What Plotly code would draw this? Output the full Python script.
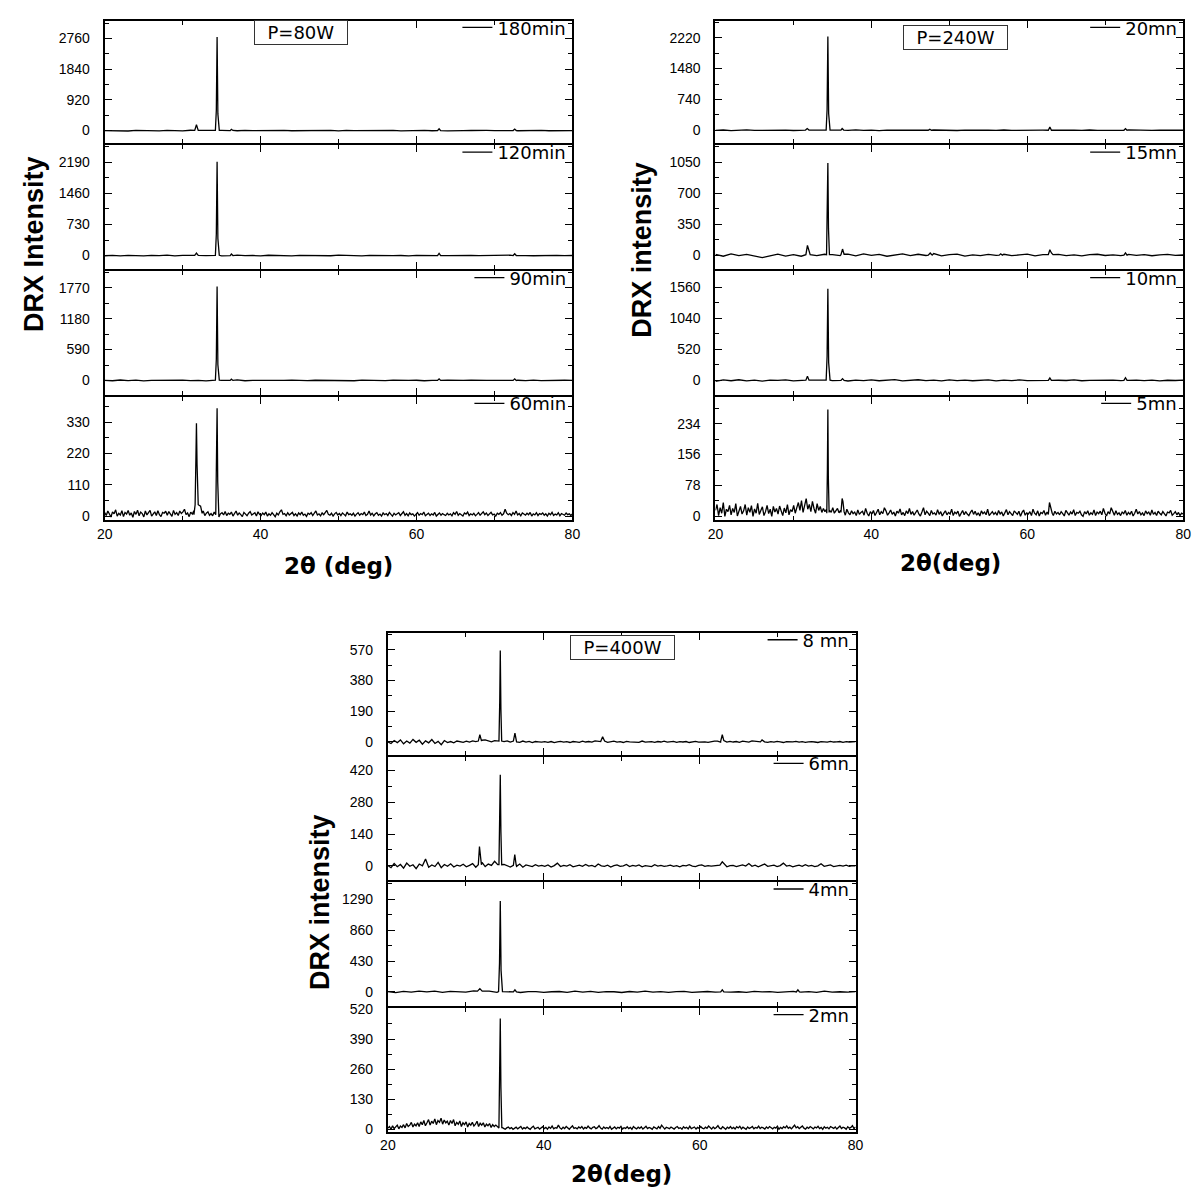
import numpy as np
import plotly.graph_objects as go

W, H = 1203, 1193

# ---------------- data ----------------
labels = ["180min", "120min", "90min", "60min",
          "20mn", "15mn", "10mn", "5mn",
          "8 mn", "6mn", "4mn", "2mn"]


def nums(s):
    return [float(v) for v in s.split()]


# baselines (evenly spaced from 20 to 80 deg)
base_180 = nums("0 -8 5 -12 6 -4 2 -10 8 -3 -6 10 -2 4 -9 6 0 -5 8 -3 5 -7 3 9 -4 2 -8 6 -2 4 -6 8 -3 1 -5 7 -2 4 -8 3 -1 6 -4 2 -7 5 -1 3 -6 4 0 -3 7 -5 2 -2 6 -4 1 -3 2")
base_120 = nums("-5 4 -8 6 0 -10 5 -3 8 -6 2 -4 9 -2 5 -8 3 10 -4 1 -6 7 -2 4 -9 5 0 -3 6 -5 8 -1 3 -7 4 -2 6 -4 1 -8 5 0 -3 7 -2 3 -6 4 -1 5 -4 2 8 -3 0 -5 4 -2 6 -3 1")
base_90 = nums("3 -6 8 -2 5 -9 2 6 -4 0 7 -5 3 -8 4 1 -3 9 -6 2 -1 5 -7 3 6 -2 -5 4 0 8 -3 2 -6 5 -1 3 -4 7 -2 0 4 -6 3 -1 5 -3 2 6 -4 0 3 -5 1 4 -2 6 -3 2 -1 4 0")
base_20 = nums("-4 6 -10 3 8 -5 0 -8 5 2 -6 9 -3 4 -7 1 6 -2 8 -4 3 -9 5 0 -3 7 -5 2 6 -1 4 -6 3 8 -2 0 -5 6 -3 2 5 -4 1 -7 4 0 3 -5 6 -2 1 4 -3 7 -1 2 -4 5 -2 3 0")
base_15 = nums("10 -12 15 -5 8 -10 -28 -8 12 -10 5 -12 8 -5 10 6 -5 12 -8 15 -3 8 -12 5 14 -6 10 -4 18 -8 6 12 -10 4 -5 8 -2 10 -6 3 12 -8 5 -3 9 -5 2 -8 6 10 -4 3 -6 8 -2 5 -7 4 9 -3 2")
base_10 = nums("-15 8 -5 12 -8 4 -10 6 0 10 -6 3 -12 5 8 -4 2 -9 6 -2 10 -5 3 15 -6 0 12 -4 5 -8 10 -3 6 -5 2 8 -6 4 -2 9 -4 0 6 -7 3 -1 8 -5 2 5 -3 7 -4 1 6 -2 4 -6 3 -1 5")
base_4 = nums("5 -10 8 -4 12 0 10 -6 8 5 -2 14 3 10 -5 6 8 -8 5 4 -6 2 6 -5 10 -3 8 -6 4 2 -8 6 -4 10 -2 5 -7 3 8 -5 1 6 -3 9 -4 2 -6 7 0 4 -5 3 8 -2 5 -6 12 -3 2 -4 3")
base_60 = nums("""
12 2 18 5 -3 15 8 22 0 10 4 19 -2 13 7 20 3 11 -4 16
6 21 1 14 9 -3 18 4 12 20 0 8 15 2 19 5 -2 13 10 17
3 16 8 -1 20 6 12 2 18 9 15 24 5 11 -2 14 7 19 20 10
25 12 6 18 2 10 15 3 9 1 14 5 20 -3 8 12 4 16 2 10
6 14 0 9 18 3 11 5 -2 13 7 1 10 16 4 8 12 0 15 6
2 11 5 14 0 8 3 12 6 -2 10 4 15 22 6 9 1 12 4 7
13 2 8 0 11 5 14 3 7 -1 10 6 12 2 9 18 4 8 1 11
5 12 20 6 3 10 0 8 13 4 9 2 11 6 1 14 5 8 3 10
0 7 12 3 9 5 14 2 6 18 4 10 1 8 12 3 7 0 11 5
9 2 13 6 0 10 4 8 12 2 7 15 3 9 1 11 5 8 0 6
12 3 9 5 14 1 7 10 2 8 4 13 0 6 11 3 9 5 2 10
4 8 1 12 6 16 3 9 5 0 11 7 14 2 8 4 10 1 6 12
3 9 15 5 11 2 8 13 4 7 0 10 6 12 3 8 24 10 5 9
2 12 6 18 4 9 1 11 7 3 10 5 13 0 8 4 12 2 9 6
11 3 8 0 10 5 13 2 7 4 12 1 9 6 3 11 5 8 2 7
""")
base_5 = nums("""
15 30 2 22 8 35 0 18 12 28 4 20 10 32 1 16 25 6 14 30
3 22 10 27 0 19 8 33 5 15 24 2 12 28 7 18 0 25 11 20
6 26 14 2 21 9 30 4 17 12 28 8 22 35 15 40 10 25 45 18
30 12 38 20 8 32 15 25 10 20 12 18 6 15 10 22 8 14 20 9
15 6 12 3 18 9 4 14 7 11 2 16 5 10 13 3 20 8 1 12
6 15 2 10 18 4 12 7 22 14 3 9 16 5 11 1 13 8 19 4
10 2 14 7 20 5 12 3 9 16 6 1 11 22 4 13 8 2 15 6
9 3 17 5 12 1 8 14 4 10 6 18 2 11 7 13 0 9 15 4
12 6 2 10 16 5 13 3 9 1 14 7 11 4 18 2 8 12 5 10
3 15 6 11 1 9 17 4 12 7 2 14 8 5 13 0 10 16 3 9
6 12 2 18 8 4 14 1 10 7 15 3 11 5 20 9 2 13 6 10
4 12 7 1 15 9 3 11 6 17 2 10 8 13 4 0 12 6 14 3
9 5 16 2 11 7 13 4 20 8 1 12 6 22 10 3 14 5 9 2
11 7 15 3 10 5 13 1 8 18 6 12 4 9 2 14 7 11 3 16
5 10 2 13 8 4 12 6 1 11 9 15 3 7 12 4 10 2 8 6
""")
base_2 = nums("""
5 12 0 15 3 10 18 2 14 8 20 6 25 12 18 30 10 22 15 28
12 32 20 38 15 28 42 18 35 25 45 20 38 30 48 22 40 28 35 18
38 25 42 15 30 22 36 12 28 20 32 10 25 18 30 14 22 35 12 26
18 28 10 22 15 25 8 20 12 18 10 6 2 8 4 0 6 10 3 7
0 5 9 2 6 12 1 7 3 10 4 0 8 13 2 6 9 1 5 11
3 8 0 10 4 14 2 7 5 18 6 1 9 3 12 5 0 8 15 4
7 2 10 5 12 1 8 4 14 6 2 9 11 3 7 16 5 1 10 4
8 3 12 0 6 10 2 9 5 13 1 7 4 11 3 8 0 12 6 2
9 4 11 1 7 13 3 8 5 0 10 6 2 12 4 18 7 1 9 5
3 10 6 1 8 12 4 7 0 11 5 9 2 13 3 6 10 1 8 4
12 5 2 9 4 14 7 1 10 3 8 16 5 2 11 6 0 9 4 12
3 8 1 11 6 13 2 9 5 0 10 4 7 12 2 8 5 14 3 9
6 1 10 4 12 7 2 9 5 13 0 8 3 11 6 15 4 9 2 10
18 6 11 3 8 14 5 1 9 4 12 7 2 10 6 13 3 8 0 11
5 9 2 12 7 4 10 1 8 14 3 9 6 0 11 5 8 16 3 10
""")
base_8 = nums("""
0 -10 8 -5 12 -12 5 -8 15 -3 10 -15 6 -6 14 -10 3 -18 8 -4 2 -6 5 0 -3 4 -2 6 2 8
10 12 5 0 8 3 10 2 6 -2 4 0 -3 5 -1 3 -4 2 0 -2
1 -3 2 -5 0 3 -2 1 -4 2 0 -3 4 -1 2 -2 6 3 -2 5
-3 0 4 -2 1 -4 3 0 -1 2 -3 5 -2 0 1 -3 2 -1 4 -2
0 3 -3 1 -1 2 -4 0 3 -2 1 0 -3 2 5 4 -2 0 -2 3
-1 2 -3 4 0 -2 6 3 -1 2 0 -3 1 -2 3 0 -4 2 -1 0
3 -2 1 -3 0 2 -1 -4 1 0 -2 3 -1 0 2 -3 1 -1 0 2
""")
base_6 = nums("""
2 -8 10 -4 6 -10 12 -2 5 -12 8 0 30 -6 4 -3 15 -8 6 -2 9 -5 3 -1 7 -4 2 10 -6 5
15 -3 8 2 20 5 -2 6 1 -5 3 -2 8 -6 4 0 -3 5 -1 2
-2 4 -5 1 12 -3 2 -1 5 -4 0 3 -2 6 -1 2 -4 8 0 -2
3 -5 1 4 -2 0 6 -3 2 -1 4 -4 1 0 -3 5 -1 2 -2 0
3 -2 1 -4 2 0 5 -1 -3 2 4 -2 1 -1 0 3 -2 6 -4 1
2 -3 0 4 -1 10 -2 3 -4 1 8 -2 0 3 -3 1 12 -1 2 -4
0 3 -2 5 -1 2 -3 0 9 -2 1 4 -3 0 2 -1 3 -2 1 0
""")

# peak profiles: (angles, intensities)
peaks_180 = [([31.55,31.77,32.0],[5,174,8]), ([34.2,34.32,34.42,34.52,34.7],[5,600,2809,500,5]),
             ([36.1,36.25,36.45],[0,40,5]), ([62.7,62.9,63.1],[0,55,0]), ([72.4,72.6,72.8],[0,45,0])]
peaks_120 = [([31.55,31.77,32.0],[5,60,5]), ([34.2,34.32,34.42,34.52,34.7],[5,500,2206,400,5]),
             ([36.1,36.25,36.45],[0,35,0]), ([62.7,62.9,63.1],[0,50,0]), ([72.4,72.6,72.8],[0,40,0])]
peaks_90 = [([34.2,34.32,34.42,34.52,34.7],[5,400,1793,300,5]), ([36.1,36.25,36.45],[0,25,0]),
            ([62.7,62.9,63.1],[0,30,0]), ([72.4,72.6,72.8],[0,30,0])]
peaks_60 = [([31.45,31.6,31.7,31.77,31.85,32.0,32.3,32.5],[5,40,200,327,180,40,35,10]),
            ([34.25,34.35,34.42,34.5,34.6],[5,150,379,120,5])]
peaks_20 = [([31.55,31.77,32.0],[5,40,5]), ([34.2,34.32,34.42,34.52,34.7],[5,500,2252,400,5]),
            ([36.1,36.25,36.45],[5,40,5]), ([47.3,47.5,47.7],[0,25,0]),
            ([62.7,62.9,63.1],[0,80,0]), ([72.4,72.6,72.8],[0,40,0])]
peaks_15 = [([31.6,31.8,32.0,32.15],[5,110,60,5]), ([34.25,34.35,34.42,34.5,34.62],[5,400,1043,300,5]),
            ([36.1,36.3,36.5],[5,69,10]), ([47.3,47.55,47.8],[0,25,0]), ([56.4,56.6,56.8],[0,15,0]),
            ([62.7,62.9,63.1,63.3],[5,61,25,5]), ([72.4,72.6,72.8],[0,25,0])]
peaks_10 = [([31.6,31.8,32.0],[5,70,5]), ([34.2,34.32,34.42,34.52,34.7],[5,400,1537,300,5]),
            ([36.1,36.3,36.5],[0,30,0]), ([62.7,62.9,63.1],[0,40,0]), ([72.4,72.6,72.8],[0,45,0])]
peaks_5 = [([34.28,34.36,34.42,34.48,34.58],[8,120,270,100,10]), ([36.1,36.25,36.35,36.5],[10,45,38,12]),
           ([62.7,62.85,63.0,63.2],[5,35,22,8])]
peaks_8 = [([31.6,31.8,32.0],[5,44,8]), ([34.25,34.35,34.42,34.5,34.6],[5,250,566,200,5]),
           ([36.1,36.3,36.5],[5,54,10]), ([47.3,47.55,47.8],[2,32,5]),
           ([62.7,62.9,63.1],[5,44,8]), ([67.8,68.0,68.2],[0,12,0])]
peaks_6 = [([31.6,31.75,31.85,32.0],[5,85,60,5]), ([34.25,34.35,34.42,34.5,34.6],[5,180,402,150,5]),
           ([36.1,36.28,36.45],[2,50,5]), ([62.6,62.9,63.2],[3,18,5])]
peaks_4 = [([31.5,31.8,32.1],[10,45,10]), ([34.2,34.32,34.42,34.52,34.7],[5,400,1267,300,5]),
           ([36.1,36.3,36.5],[0,30,0]), ([62.7,62.9,63.1],[0,30,0]), ([72.4,72.6,72.8],[0,30,0])]
peaks_2 = [([34.25,34.35,34.42,34.5,34.62],[15,200,478,180,5])]

bases = [base_180, base_120, base_90, base_60, base_20, base_15, base_10, base_5,
         base_8, base_6, base_4, base_2]
peaks = [peaks_180, peaks_120, peaks_90, peaks_60, peaks_20, peaks_15, peaks_10, peaks_5,
         peaks_8, peaks_6, peaks_4, peaks_2]

# y tick step per panel and number of labelled ticks
tick_steps = [920, 730, 590, 110, 740, 350, 520, 78, 190, 140, 430, 130]
tick_counts = [4, 4, 4, 4, 4, 4, 4, 4, 4, 4, 4, 5]
y_ranges = [[-387, 3291], [-319, 2587], [-273, 2089], [-15, 420],
            [-318, 2626], [-158, 1241], [-239, 1831], [-10, 302],
            [-80, 674], [-64, 481], [-196, 1525], [-10, 524]]
powers = ["P=80W", "P=240W", "P=400W"]


def build(base, clusters):
    x = np.linspace(20, 80, len(base))
    y = np.array(base, dtype=float)
    keep = np.ones(len(x), dtype=bool)
    for cx, cy in clusters:
        keep &= ~((x >= cx[0]) & (x <= cx[-1]))
    xs = list(x[keep])
    ys = list(y[keep])
    for cx, cy in clusters:
        xs += list(cx)
        ys += list(cy)
    order = np.argsort(xs)
    return np.array(xs)[order], np.array(ys)[order]


# ---------------- layout geometry (pixels) ----------------
groups = [
    dict(x0=97, x1=573, edges=[13, 139, 266, 393, 520]),
    dict(x0=716, x1=1192, edges=[13, 139, 266, 393, 520]),
    dict(x0=384, x1=860, edges=[632, 757, 884, 1011, 1138]),
]
LW = 2
HALF = LW / 2

fig = go.Figure()
layout = dict(width=W, height=H, margin=dict(l=0, r=0, t=0, b=0),
              paper_bgcolor="white", plot_bgcolor="white", showlegend=True)
FONT = "Liberation Sans, Arial, sans-serif"
WIDE = "DejaVu Sans, Verdana, sans-serif"
annotations = []

for i in range(12):
    g = groups[i // 4]
    row = i % 4
    n = i + 1
    sfx = "" if n == 1 else str(n)
    top_px, bot_px = g["edges"][row], g["edges"][row + 1]
    xs, ys = build(bases[i], peaks[i])
    leg = "legend" if n == 1 else "legend" + str(n)
    fig.add_trace(go.Scatter(x=xs, y=ys, mode="lines", name=labels[i],
                             line=dict(color="black", width=1.3),
                             xaxis="x" + sfx, yaxis="y" + sfx, legend=leg,
                             hoverinfo="skip"))
    layout[leg] = dict(x=(g["x1"] - 2) / W, xanchor="right",
                       y=1 - (top_px + 8) / H, yanchor="middle",
                       bgcolor="rgba(0,0,0,0)", borderwidth=0,
                       font=dict(family=WIDE, size=18, color="black"),
                       itemwidth=30, tracegroupgap=0)
    step = tick_steps[i]
    layout["xaxis" + sfx] = dict(
        domain=[(g["x0"] + HALF) / W, (g["x1"] - HALF) / W], anchor="y" + sfx, range=[20, 80],
        showline=True, linecolor="black", linewidth=LW, mirror="allticks",
        ticks="inside", ticklen=7, tickwidth=1.2, tickcolor="black",
        dtick=20, tick0=20, showgrid=False, zeroline=False,
        minor=dict(dtick=10, ticks="inside", ticklen=4, tickwidth=1.2, tickcolor="black"),
        showticklabels=(row == 3), ticklabelstandoff=0,
        tickfont=dict(family=FONT, size=14, color="black"))
    layout["yaxis" + sfx] = dict(
        domain=[1 - (bot_px - HALF) / H, 1 - (top_px + HALF) / H], anchor="x" + sfx,
        range=y_ranges[i],
        showline=True, linecolor="black", linewidth=LW, mirror="allticks",
        ticks="inside", ticklen=7, tickwidth=1.2, tickcolor="black",
        tickvals=[step * k for k in range(tick_counts[i])],
        showgrid=False, zeroline=False,
        minor=dict(tick0=0, dtick=step / 2, ticks="inside", ticklen=4, tickwidth=1.2,
                   tickcolor="black"),
        ticklabelstandoff=10,
        tickfont=dict(family=FONT, size=14, color="black"))

# power boxes, axis titles
box_pos = [(297, 26), (960, 31), (623, 648)]
ytitle_pos = [(27, 240, "DRX Intensity"), (643, 245, "DRX intensity"), (316, 905, "DRX intensity")]
xtitle_pos = [(335, 565, "2θ (deg)"), (955, 562, "2θ(deg)"), (622, 1180, "2θ(deg)")]
for k in range(3):
    bx, by = box_pos[k]
    annotations.append(dict(x=bx / W, y=1 - by / H, xref="paper", yref="paper",
                            text="&nbsp;&nbsp;" + powers[k] + "&nbsp;&nbsp;", showarrow=False,
                            font=dict(family=WIDE, size=18, color="black"),
                            bordercolor="#333", borderwidth=1, borderpad=1,
                            bgcolor="white", xanchor="center", yanchor="middle"))
    tx, ty, tt = ytitle_pos[k]
    annotations.append(dict(x=tx / W, y=1 - ty / H, xref="paper", yref="paper",
                            text="<b>" + tt + "</b>", showarrow=False, textangle=-90,
                            font=dict(family="Liberation Sans Narrow, Arial Narrow, Liberation Sans, Arial",
                                      size=27, color="black"),
                            xanchor="center", yanchor="middle"))
    tx, ty, tt = xtitle_pos[k]
    annotations.append(dict(x=tx / W, y=1 - ty / H, xref="paper", yref="paper",
                            text="<b>" + tt + "</b>", showarrow=False,
                            font=dict(family=WIDE, size=23, color="black"),
                            xanchor="center", yanchor="middle"))

layout["annotations"] = annotations
fig.update_layout(**layout)
fig.write_html("out.html", post_script="document.body.style.margin='0';")
